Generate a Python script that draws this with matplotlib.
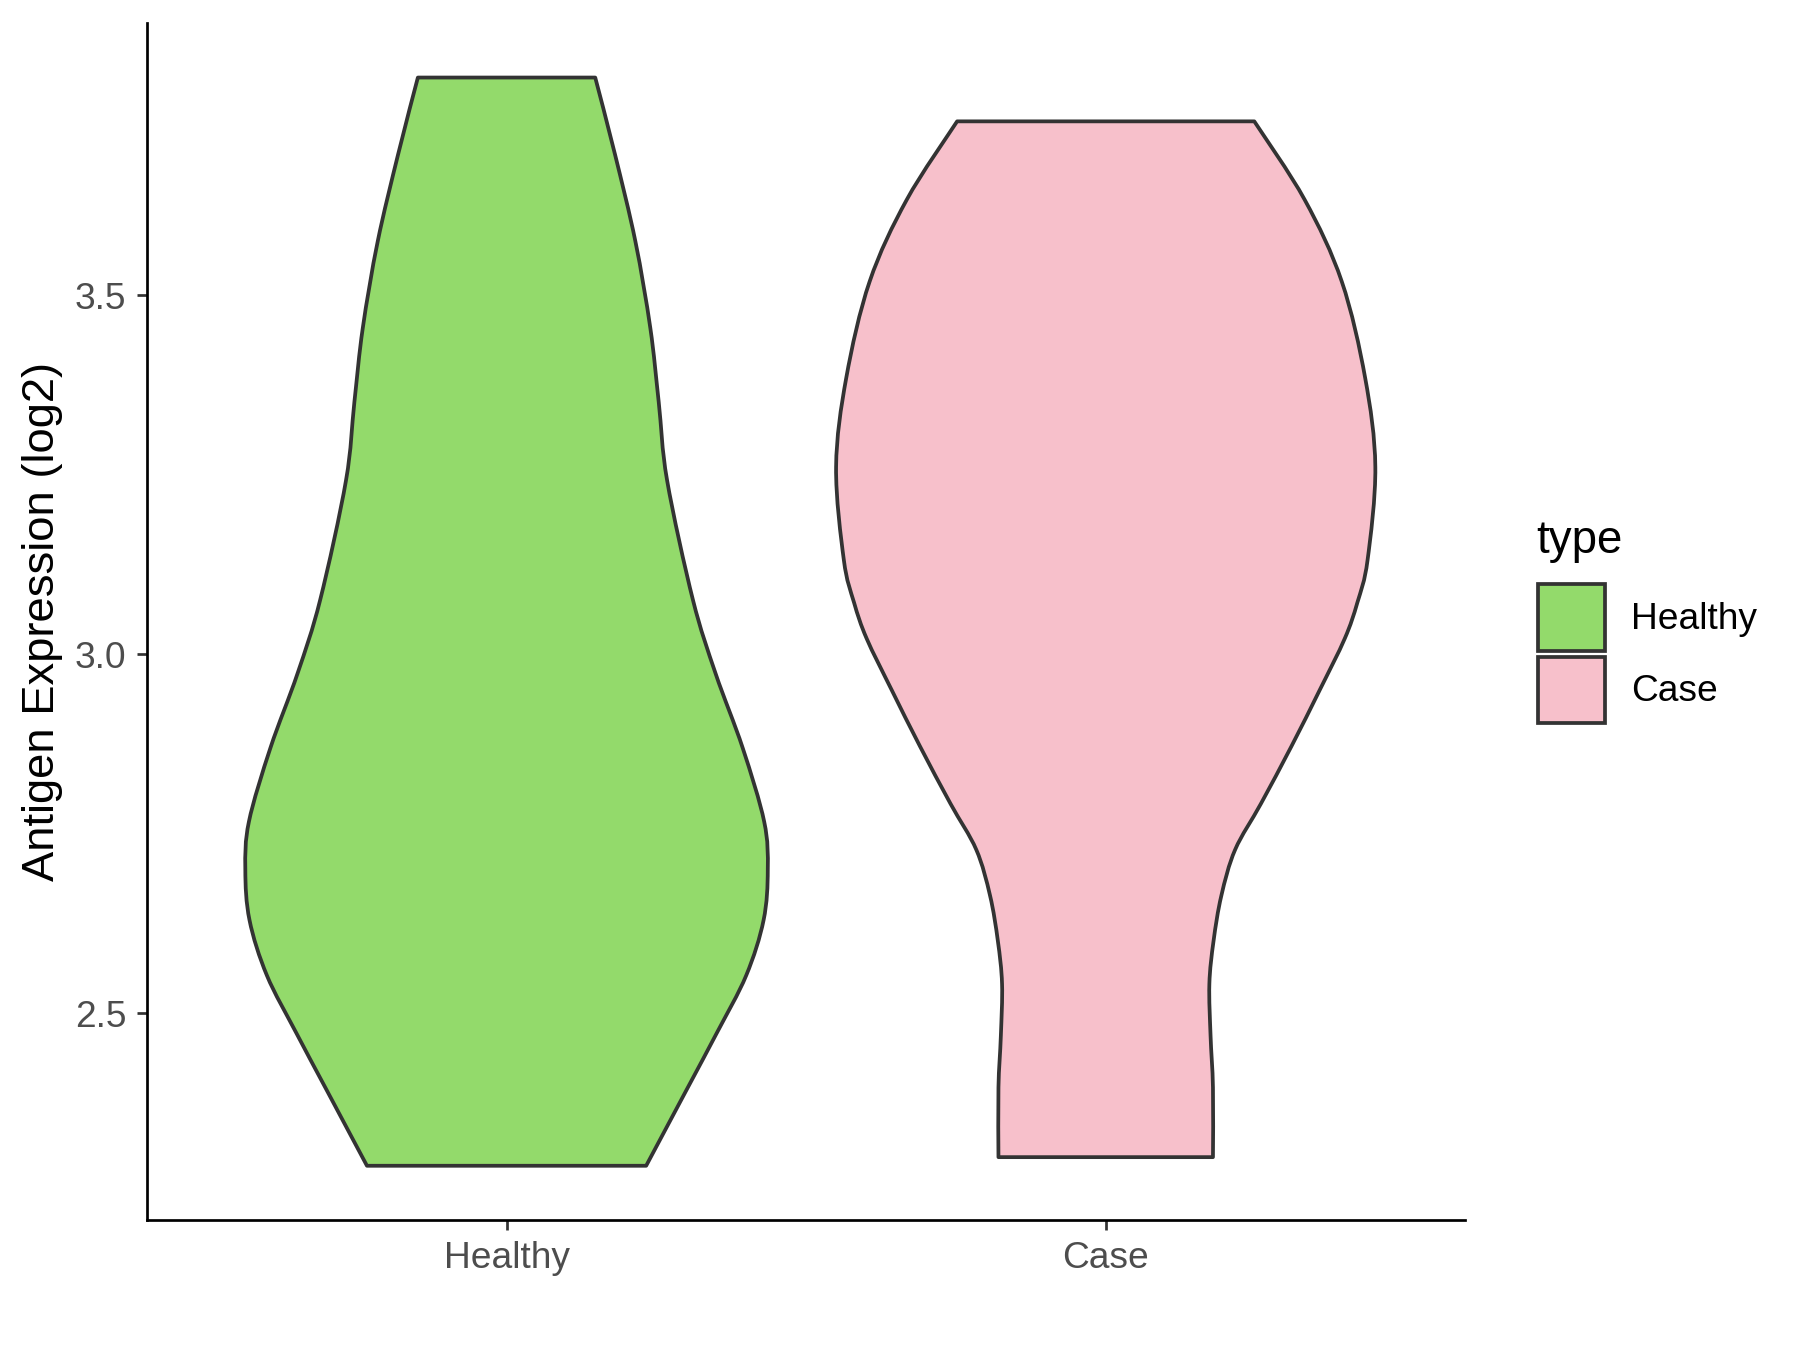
import numpy as np
import matplotlib.pyplot as plt
from matplotlib.path import Path
from matplotlib.patches import PathPatch, Patch

plt.rcParams['font.family'] = ['Liberation Sans', 'DejaVu Sans']

groups = ["Healthy", "Case"]
colors = ["#93DA6B", "#F7C0CB"]

# violin outlines: value -> half width (x units)
healthy_y = [3.803, 3.696, 3.575, 3.454, 3.351, 3.242, 3.076, 2.973,
             2.870, 2.767, 2.700, 2.630, 2.553, 2.473, 2.393, 2.288]
healthy_w = [0.148, 0.181, 0.215, 0.240, 0.254, 0.268, 0.311, 0.349,
             0.394, 0.430, 0.436, 0.429, 0.400, 0.351, 0.300, 0.233]
case_y = [3.742, 3.633, 3.519, 3.385, 3.261, 3.131, 3.072, 3.022, 2.950,
          2.872, 2.792, 2.728, 2.664, 2.601, 2.541, 2.469, 2.397, 2.300]
case_w = [0.248, 0.332, 0.394, 0.433, 0.450, 0.437, 0.420, 0.399, 0.357,
          0.310, 0.259, 0.216, 0.193, 0.180, 0.173, 0.175, 0.179, 0.179]

outlines = [(healthy_y, healthy_w), (case_y, case_w)]
yticks = [2.5, 3.0, 3.5]


def smooth_segments(pts):
    # catmull-rom through the points, as bezier pieces
    pts = np.asarray(pts)
    ext = np.vstack([pts[0], pts, pts[-1]])
    verts, codes = [], []
    for i in range(1, len(ext) - 2):
        p0, p1, p2, p3 = ext[i - 1], ext[i], ext[i + 1], ext[i + 2]
        c1 = p1 + (p2 - p0) / 6
        c2 = p2 - (p3 - p1) / 6
        verts += [c1, c2, p2]
        codes += [Path.CURVE4] * 3
    return verts, codes


def violin_path(center, ys, ws):
    ys = np.array(ys)
    ws = np.array(ws)
    left = np.column_stack([center - ws, ys])
    right = np.column_stack([center + ws, ys])[::-1]
    verts = [left[0]]
    codes = [Path.MOVETO]
    v, c = smooth_segments(left)
    verts += v
    codes += c
    verts.append(right[0])
    codes.append(Path.LINETO)
    v, c = smooth_segments(right)
    verts += v
    codes += c
    verts.append(left[0])
    codes.append(Path.CLOSEPOLY)
    return Path(verts, codes)


fig = plt.figure(figsize=(12, 9), dpi=150)
ax = fig.add_axes([0.0817, 0.0963, 0.7323, 0.8867])

for i, (ys, ws) in enumerate(outlines):
    p = violin_path(i + 1, ys, ws)
    ax.add_patch(PathPatch(p, facecolor=colors[i], edgecolor="#333333",
                           linewidth=1.8, joinstyle="round"))

ax.set_xlim(0.4, 2.6)
ax.set_ylim(2.2125, 3.879)
ax.set_xticks([1, 2])
ax.set_xticklabels(groups)
ax.set_yticks(yticks)
ax.set_yticklabels(["%.1f" % t for t in yticks])

for s in ["top", "right"]:
    ax.spines[s].set_visible(False)
for s in ["left", "bottom"]:
    ax.spines[s].set_linewidth(1.3)
    ax.spines[s].set_color("black")
ax.tick_params(axis="both", length=5, width=1.3, color="#333333",
               labelsize=17.8, labelcolor="#4D4D4D")
ax.tick_params(axis="y", pad=5)
ax.tick_params(axis="x", pad=5.2)
ax.set_ylabel("Antigen Expression (log2)", fontsize=21.8, labelpad=5.7)

handles = [Patch(facecolor=colors[i], edgecolor="#333333", linewidth=1.8)
           for i in range(len(groups))]
fig.text(0.8533, 0.5904, "type", fontsize=21.9, va="baseline", ha="left")
leg = fig.legend(handles, groups, loc="upper left", bbox_to_anchor=(0.8546, 0.5672),
                 frameon=False, fontsize=17.8,
                 handlelength=1.8, handleheight=2.39, handletextpad=0.7,
                 labelspacing=0.155, borderpad=0, borderaxespad=0)

fig.savefig("out.png", dpi=150)
